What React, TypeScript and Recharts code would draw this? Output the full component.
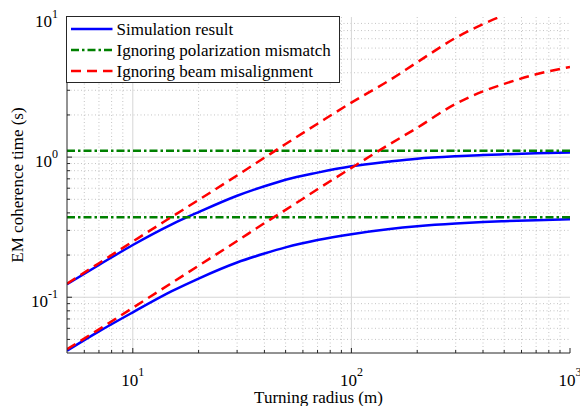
import { CartesianGrid, Legend, Line, LineChart, XAxis, YAxis } from "recharts";

// turning radius (m) at which the curves were read
const radius = [5, 7, 10, 15, 20, 30, 40, 50, 70, 100, 150, 200, 300, 400, 500, 700, 1000];

// EM coherence time (s)
const simHigh = [0.124, 0.17, 0.236, 0.33, 0.405, 0.53, 0.62, 0.69, 0.775, 0.86, 0.93, 0.975, 1.015, 1.035, 1.048, 1.064, 1.078];
const simLow = [0.0415, 0.057, 0.078, 0.11, 0.136, 0.177, 0.205, 0.227, 0.256, 0.282, 0.307, 0.321, 0.336, 0.344, 0.349, 0.355, 0.36];
const beamHigh = [0.125, 0.175, 0.25, 0.373, 0.495, 0.74, 0.99, 1.24, 1.73, 2.45, 3.55, 4.75, 7.1, 8.9, 10.3, 12.0, 13.3];
const beamLow = [0.0425, 0.059, 0.084, 0.126, 0.168, 0.252, 0.338, 0.42, 0.59, 0.838, 1.24, 1.62, 2.4, 2.95, 3.33, 3.9, 4.4];

const polRadius = [5, 1000];
const polHigh = [1.11, 1.11];
const polLow = [0.372, 0.372];

const xDomain = [5, 1000];
const yDomain = [0.04, 10];
const xMajor = [10, 100, 1000];
const xMinor = [6, 7, 8, 9, 20, 30, 40, 50, 60, 70, 80, 90, 200, 300, 400, 500, 600, 700, 800, 900];
const yMajor = [0.1, 1, 10];
const yMinor = [0.05, 0.06, 0.07, 0.08, 0.09, 0.2, 0.3, 0.4, 0.5, 0.6, 0.7, 0.8, 0.9, 2, 3, 4, 5, 6, 7, 8, 9];

const legendLabels = ["Simulation result", "Ignoring polarization mismatch", "Ignoring beam misalignment"];

const data = radius.map((r, i) => ({
  r,
  simHigh: simHigh[i],
  simLow: simLow[i],
  beamHigh: beamHigh[i],
  beamLow: beamLow[i],
}));
const polData = polRadius.map((r, i) => ({ r, polHigh: polHigh[i], polLow: polLow[i] }));

const FONT = '"Liberation Serif", "Times New Roman", serif';
const AXIS = "#262626";
const BLUE = "#0000ff";
const GREEN = "#008000";
const RED = "#ff0000";
const POL_DASH = "8 3 2.5 3";
const BEAM_DASH = "10 6";
const legendStyles = [
  { color: BLUE, dash: undefined },
  { color: GREEN, dash: POL_DASH },
  { color: RED, dash: BEAM_DASH },
];

const isMajor = (v: number) => Math.abs(Math.log10(v) - Math.round(Math.log10(v))) < 1e-9;
const expOf = (v: number) => Math.round(Math.log10(v));

function BottomTick(props: any) {
  const { x, y, payload } = props;
  const major = isMajor(payload.value);
  return (
    <g>
      <line x1={x} x2={x} y1={y} y2={y - (major ? 5 : 3)} stroke={AXIS} strokeWidth={1} />
      {major && (
        <text x={x} y={y + 33} textAnchor="middle" fontSize={17} fontFamily={FONT} fill="#000">
          10
          <tspan dy={-10} fontSize={12}>
            {expOf(payload.value)}
          </tspan>
        </text>
      )}
    </g>
  );
}

function TopTick(props: any) {
  const { x, y, payload } = props;
  const major = isMajor(payload.value);
  return <line x1={x} x2={x} y1={y} y2={y + (major ? 5 : 3)} stroke={AXIS} strokeWidth={1} />;
}

function LeftTick(props: any) {
  const { x, y, payload } = props;
  const major = isMajor(payload.value);
  return (
    <g>
      <line x1={x} x2={x + (major ? 5 : 3)} y1={y} y2={y} stroke={AXIS} strokeWidth={1} />
      {major && (
        <text x={x - 9} y={y + 9.5} textAnchor="end" fontSize={17} fontFamily={FONT} fill="#000">
          10
          <tspan dy={-8.5} fontSize={12}>
            {expOf(payload.value)}
          </tspan>
        </text>
      )}
    </g>
  );
}

function RightTick(props: any) {
  const { x, y, payload } = props;
  const major = isMajor(payload.value);
  return <line x1={x} x2={x - (major ? 5 : 3)} y1={y} y2={y} stroke={AXIS} strokeWidth={1} />;
}

function YTitle(props: any) {
  const vb = props.viewBox || { x: 0, y: 17, width: 67, height: 336 };
  const cx = vb.x + 17;
  const cy = vb.y + vb.height / 2;
  return (
    <text
      x={cx}
      y={cy}
      transform={`rotate(-90, ${cx}, ${cy})`}
      textAnchor="middle"
      dominantBaseline="central"
      fontSize={17}
      fontFamily={FONT}
      fill="#000"
    >
      EM coherence time (s)
    </text>
  );
}

function LegendBox() {
  return (
    <svg width={274} height={67} style={{ display: "block" }}>
      <rect x={0.5} y={0.5} width={273} height={66} fill="#fff" stroke={AXIS} strokeWidth={1} />
      {legendLabels.map((label, i) => (
        <g key={label}>
          <line
            x1={5}
            x2={46.5}
            y1={13 + i * 21}
            y2={13 + i * 21}
            stroke={legendStyles[i].color}
            strokeWidth={2.5}
            strokeDasharray={legendStyles[i].dash}
          />
          <text x={50.5} y={19 + i * 21} fontSize={17} fontFamily={FONT} fill="#000">
            {label}
          </text>
        </g>
      ))}
    </svg>
  );
}

export default function App() {
  const xGridMajor = xMajor.filter((v) => v < xDomain[1]);
  const yGridMajor = yMajor.filter((v) => v < yDomain[1]);
  const xTicks = [...xMajor, ...xMinor].sort((a, b) => a - b);
  const yTicks = [...yMajor, ...yMinor].sort((a, b) => a - b);

  return (
    <div style={{ position: "absolute", left: 0, top: 0, width: 580, height: 406, background: "#fff" }}>
      <LineChart width={580} height={406} data={data} margin={{ top: 17, right: 10, left: 0, bottom: 0 }}>
        <CartesianGrid
          xAxisId="x"
          yAxisId="y"
          verticalValues={xMinor}
          horizontalValues={yMinor}
          stroke="#c4c4c4"
          strokeDasharray="1 2.5"
          fill="none"
        />
        <CartesianGrid
          xAxisId="x"
          yAxisId="y"
          verticalValues={xGridMajor}
          horizontalValues={yGridMajor}
          stroke="#d6d6d6"
          fill="none"
        />
        <XAxis
          xAxisId="x"
          dataKey="r"
          type="number"
          scale="log"
          domain={xDomain}
          allowDataOverflow
          ticks={xTicks}
          interval={0}
          tick={<BottomTick />}
          tickLine={false}
          tickSize={0}
          tickMargin={0}
          height={53}
          axisLine={{ stroke: AXIS }}
          label={{
            value: "Turning radius (m)",
            position: "insideBottom",
            offset: 3,
            fontSize: 17,
            fontFamily: FONT,
            fill: "#000",
          }}
        />
        <XAxis
          xAxisId="top"
          orientation="top"
          dataKey="r"
          type="number"
          scale="log"
          domain={xDomain}
          allowDataOverflow
          ticks={xTicks}
          interval={0}
          tick={<TopTick />}
          tickLine={false}
          tickSize={0}
          tickMargin={0}
          height={0}
          axisLine={{ stroke: AXIS }}
        />
        <YAxis
          yAxisId="y"
          type="number"
          scale="log"
          domain={yDomain}
          allowDataOverflow
          ticks={yTicks}
          interval={0}
          tick={<LeftTick />}
          tickLine={false}
          tickSize={0}
          tickMargin={0}
          width={67}
          axisLine={{ stroke: AXIS }}
          label={(p: any) => <YTitle viewBox={p.viewBox} />}
        />
        <YAxis
          yAxisId="right"
          orientation="right"
          type="number"
          scale="log"
          domain={yDomain}
          allowDataOverflow
          ticks={yTicks}
          interval={0}
          tick={<RightTick />}
          tickLine={false}
          tickSize={0}
          tickMargin={0}
          width={0}
          axisLine={{ stroke: AXIS }}
        />
        <Line xAxisId="x" yAxisId="y" type="monotone" dataKey="simHigh" stroke={BLUE} strokeWidth={2.5} dot={false} activeDot={false} isAnimationActive={false} />
        <Line xAxisId="x" yAxisId="y" type="monotone" dataKey="simLow" stroke={BLUE} strokeWidth={2.5} dot={false} activeDot={false} isAnimationActive={false} />
        <Line xAxisId="x" yAxisId="y" data={polData} type="linear" dataKey="polHigh" stroke={GREEN} strokeWidth={2.5} strokeDasharray={POL_DASH} dot={false} activeDot={false} isAnimationActive={false} />
        <Line xAxisId="x" yAxisId="y" data={polData} type="linear" dataKey="polLow" stroke={GREEN} strokeWidth={2.5} strokeDasharray={POL_DASH} dot={false} activeDot={false} isAnimationActive={false} />
        <Line xAxisId="x" yAxisId="y" type="monotone" dataKey="beamHigh" stroke={RED} strokeWidth={2.5} strokeDasharray={BEAM_DASH} dot={false} activeDot={false} isAnimationActive={false} />
        <Line xAxisId="x" yAxisId="y" type="monotone" dataKey="beamLow" stroke={RED} strokeWidth={2.5} strokeDasharray={BEAM_DASH} dot={false} activeDot={false} isAnimationActive={false} />
        <Legend
          layout="vertical"
          align="center"
          verticalAlign="middle"
          content={() => <LegendBox />}
          wrapperStyle={{ left: 66, top: 16, width: 274, height: 67 }}
        />
      </LineChart>
    </div>
  );
}
